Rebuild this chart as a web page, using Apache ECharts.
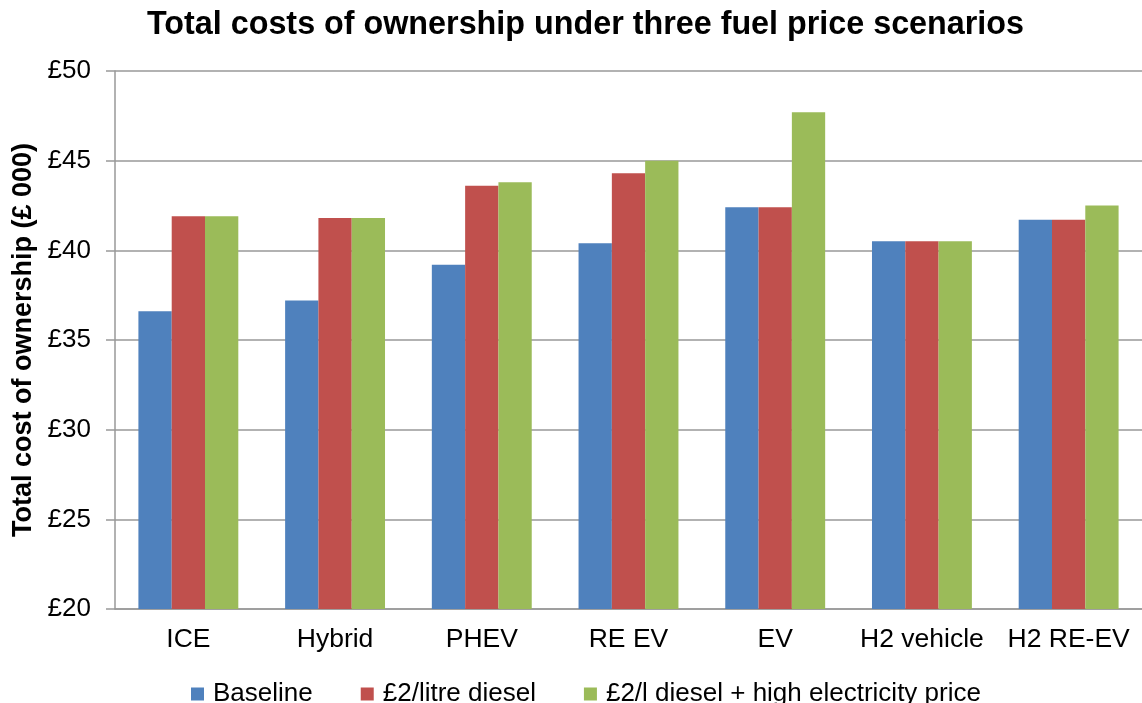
<!DOCTYPE html>
<html>
<head>
    <meta charset="utf-8">
    <title>Total costs of ownership</title>
    <script src="https://cdn.jsdelivr.net/npm/echarts@6/dist/echarts.min.js"></script>
    <style>
        html, body { margin: 0; padding: 0; background: #fff; }
        #chart { width: 1142px; height: 703px; }
    </style>
</head>
<body>
<div id="chart"></div>
<script>
    // vehicle types
    var categories = ['ICE', 'Hybrid', 'PHEV', 'RE EV', 'EV', 'H2 vehicle', 'H2 RE-EV'];
    var seriesNames = ['Baseline', '£2/litre diesel', '£2/l diesel + high electricity price'];
    // values in £ 000
    var baseline = [36.6, 37.2, 39.2, 40.4, 42.4, 40.5, 41.7];
    var diesel = [41.9, 41.8, 43.6, 44.3, 42.4, 40.5, 41.7];
    var highElec = [41.9, 41.8, 43.8, 45.0, 47.7, 40.5, 42.5];
    var colors = ['#4F81BD', '#C0504D', '#9BBB59'];

    var font = '"Liberation Sans", Arial, sans-serif';
    var myChart = echarts.init(document.getElementById('chart'));

    var option = {
        animation: false,
        color: colors,
        title: {
            text: 'Total costs of ownership under three fuel price scenarios',
            left: 142,
            top: 4,
            textStyle: {fontFamily: font, fontSize: 32.3, fontWeight: 'bold', color: '#000'}
        },
        legend: {
            data: seriesNames,
            left: 186,
            top: 676,
            itemWidth: 13,
            itemHeight: 13,
            itemGap: 48,
            icon: 'rect',
            textStyle: {fontFamily: font, fontSize: 26, color: '#000', lineHeight: 26, padding: [0, 0, 0, 4]}
        },
        grid: {
            left: 115,
            right: -12,
            top: 71,
            bottom: 94
        },
        xAxis: {
            type: 'category',
            data: categories,
            axisLine: {lineStyle: {color: '#999', width: 1.5}},
            axisTick: {length: 7, lineStyle: {color: '#999', width: 1.5}},
            axisLabel: {fontFamily: font, fontSize: 26.5, color: '#000', margin: 17, interval: 0}
        },
        yAxis: {
            type: 'value',
            min: 20,
            max: 50,
            interval: 5,
            name: 'Total cost of ownership (£ 000)',
            nameLocation: 'middle',
            nameGap: 75,
            nameTextStyle: {fontFamily: font, fontSize: 27, fontWeight: 'bold', color: '#000'},
            axisLine: {show: true, lineStyle: {color: '#999', width: 1.5}},
            axisTick: {show: true, length: 9, lineStyle: {color: '#999', width: 1.5}},
            axisLabel: {fontFamily: font, fontSize: 26, color: '#000', margin: 24, formatter: '£{value}'},
            splitLine: {lineStyle: {color: '#999', width: 1.5}}
        },
        series: [
            {name: seriesNames[0], type: 'bar', data: baseline, barWidth: 33.3, barGap: '0%'},
            {name: seriesNames[1], type: 'bar', data: diesel, barWidth: 33.3, barGap: '0%'},
            {name: seriesNames[2], type: 'bar', data: highElec, barWidth: 33.3, barGap: '0%'}
        ]
    };
    myChart.setOption(option);
</script>
</body>
</html>
